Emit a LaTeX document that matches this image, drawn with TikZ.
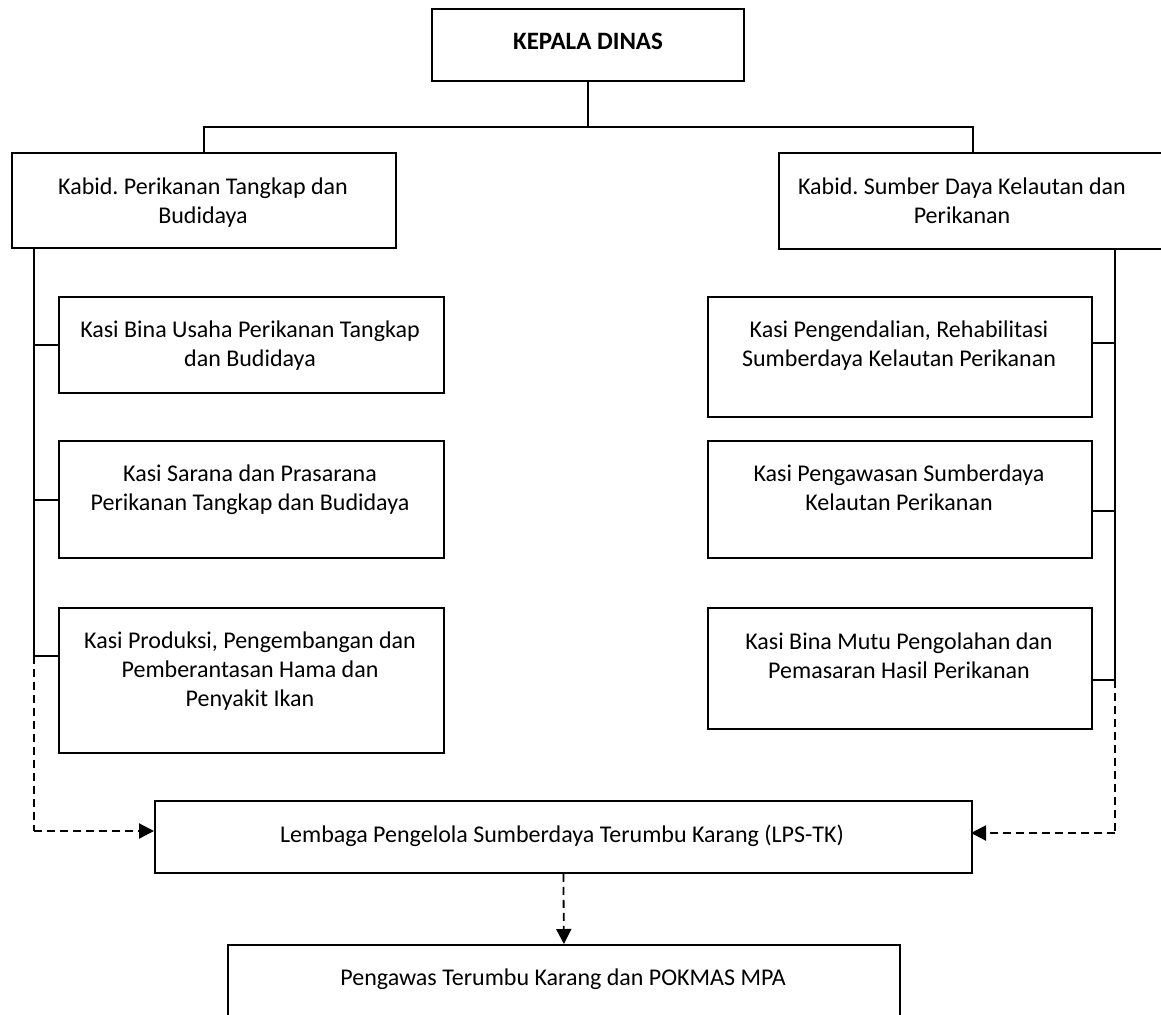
\documentclass[tikz,border=0pt]{standalone}
\usepackage{fontspec}
\setmainfont{Carlito}
\usetikzlibrary{arrows.meta}
\frenchspacing
\begin{document}
\begin{tikzpicture}[x=1pt,y=-1pt,
  box/.style={draw, line width=2.2pt, inner sep=0pt, anchor=north west},
  txt/.style={anchor=base, align=center, inner sep=0pt, font=\fontsize{24}{29}\selectfont},
  conn/.style={line width=2.2pt},
  dconn/.style={line width=2.2pt, dash pattern=on 8pt off 5pt},
  arr/.style={-{Triangle[length=15pt,width=15pt]}}]
\useasboundingbox (0,0) rectangle (1161,1014);
% boxes
\node[box, minimum width=312pt, minimum height=72pt] (kd) at (431,8) {};
\node[box, minimum width=384pt, minimum height=95pt] (kb1) at (11,152) {};
\node[box, minimum width=388pt, minimum height=96pt] (kb2) at (778,152) {};
\node[box, minimum width=385pt, minimum height=96pt] (k1) at (58,296) {};
\node[box, minimum width=385pt, minimum height=117pt] (k2) at (58,440) {};
\node[box, minimum width=385pt, minimum height=145pt] (k3) at (58,607) {};
\node[box, minimum width=384pt, minimum height=120pt] (r1) at (707,296) {};
\node[box, minimum width=384pt, minimum height=117pt] (r2) at (707,440) {};
\node[box, minimum width=384pt, minimum height=121pt] (r3) at (707,607) {};
\node[box, line width=1.8pt, minimum width=817pt, minimum height=72pt] (lps) at (154,800) {};
\node[box, line width=1.8pt, minimum width=672pt, minimum height=90pt] (pk) at (227,944) {};
% texts (base anchor = baseline of last line)
\node[txt, font=\fontsize{25}{29}\selectfont\bfseries] (tkd) at (588,50) {KEPALA DINAS};
\node[txt] (tkb1) at (203,223) {Kabid. Perikanan Tangkap dan\\Budidaya};
\node[txt] (tkb2) at (962,223) {Kabid. Sumber Daya Kelautan dan\\Perikanan};
\node[txt] (tk1) at (250,366) {Kasi Bina Usaha Perikanan Tangkap\\dan Budidaya};
\node[txt] (tk2) at (250,510) {Kasi Sarana dan Prasarana\\Perikanan Tangkap dan Budidaya};
\node[txt] (tk3) at (250,706) {Kasi Produksi, Pengembangan dan\\Pemberantasan Hama dan\\Penyakit Ikan};
\node[txt] (tr1) at (899,366) {Kasi Pengendalian, Rehabilitasi\\Sumberdaya Kelautan Perikanan};
\node[txt] (tr2) at (899,510) {Kasi Pengawasan Sumberdaya\\Kelautan Perikanan};
\node[txt] (tr3) at (899,678) {Kasi Bina Mutu Pengolahan dan\\Pemasaran Hasil Perikanan};
\node[txt] (tlps) at (562,842) {Lembaga Pengelola Sumberdaya Terumbu Karang (LPS-TK)};
\node[txt] (tpk) at (563,985) {Pengawas Terumbu Karang dan POKMAS MPA};
% coordinates
\coordinate (hl) at (587,127);
\coordinate (lt) at (34,247);
\coordinate (lj) at (34,656);
\coordinate (ld) at (34,831);
\coordinate (la) at (154,831);
\coordinate (k3c) at (58,656);
\coordinate (rt) at (1115,248);
\coordinate (rj) at (1115,680);
\coordinate (rd) at (1115,833);
\coordinate (ra) at (971,833);
\coordinate (r1c) at (1091,343);
\coordinate (r2c) at (1091,511);
\coordinate (r3c) at (1091,680);
% top connectors
\draw[conn] (kd.south) -- (kd.south |- hl);
\draw[conn] (kb1.north) |- (hl) -| (kb2.north);
% left trunk
\draw[conn] (lt) -- (lj);
\draw[conn] (k1.west) -- (k1.west -| lt);
\draw[conn] (k2.west) -- (k2.west -| lt);
\draw[conn] (k3c) -- (lj);
\draw[dconn] (lj) -- (ld);
\draw[dconn, arr] (ld) -- (la);
% right trunk
\draw[conn] (rt) -- (rj);
\draw[conn] (r1c) -- (r1c -| rt);
\draw[conn] (r2c) -- (r2c -| rt);
\draw[conn] (r3c) -- (rj);
\draw[dconn] (rj) -- (rd);
\draw[dconn, arr] (rd) -- (ra);
% bottom
\draw[dconn, line width=1.8pt, arr] (lps.south) -- (pk.north);
\end{tikzpicture}
\end{document}
